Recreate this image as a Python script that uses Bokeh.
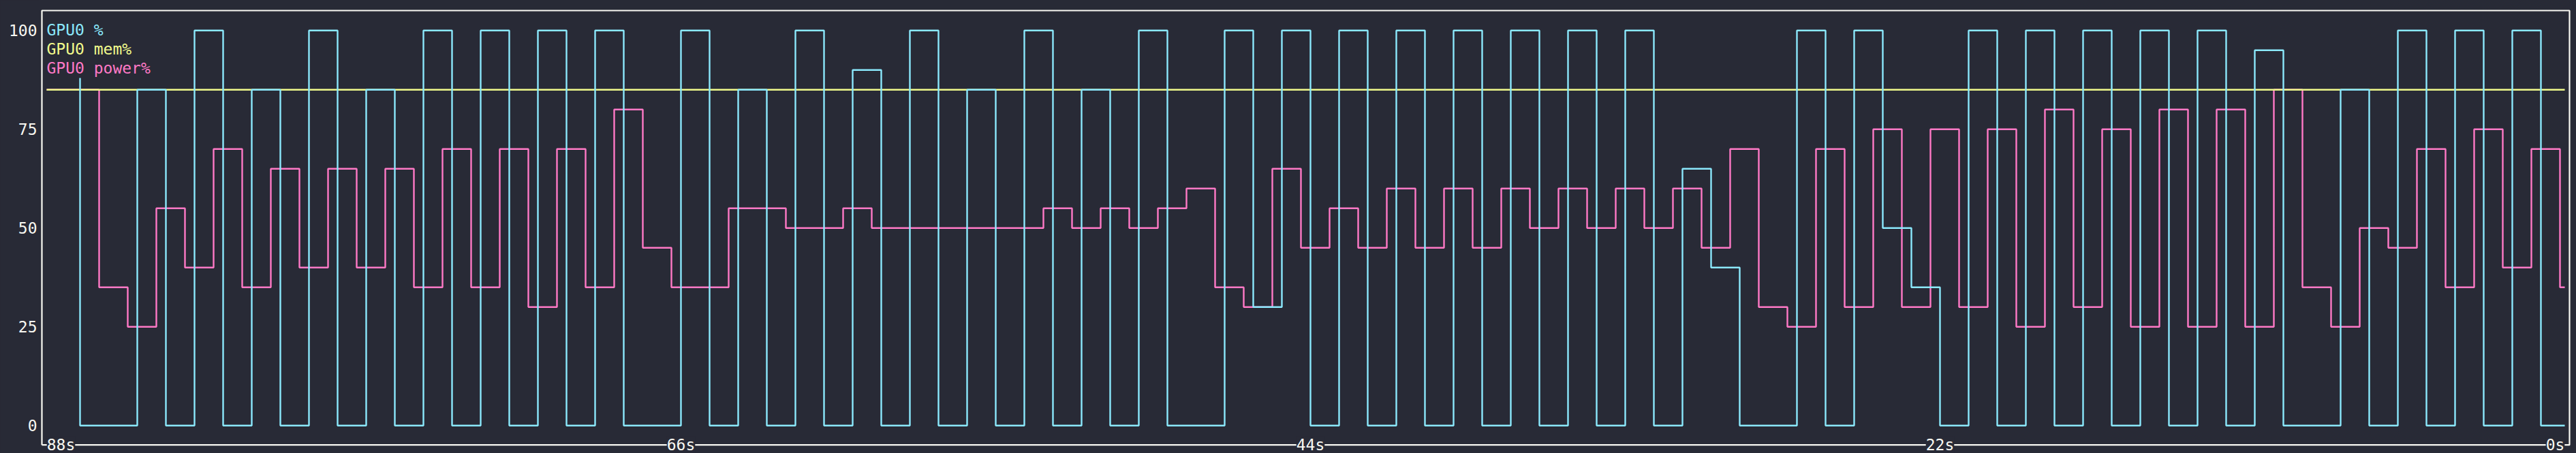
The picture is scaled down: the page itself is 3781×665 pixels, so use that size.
import numpy as np
from bokeh.plotting import figure
from bokeh.models import ColumnDataSource, Range1d, FixedTicker, Label
from bokeh.core.properties import value
from bokeh.embed import file_html
from bokeh.resources import INLINE

# ---------------- data (one sample per second, 88 s window) ----------------
gpu_pct = [88, 0, 0, 85, 0, 100, 0, 85, 0, 100, 0, 85, 0, 100, 0, 100, 0, 100, 0,
           100, 0, 0, 100, 0, 85, 0, 100, 0, 90, 0, 100, 0, 85, 0, 100, 0, 85, 0,
           100, 0, 0, 100, 30, 100, 0, 100, 0, 100, 0, 100, 0, 100, 0, 100, 0, 100,
           0, 65, 40, 0, 0, 100, 0, 100, 50, 35, 0, 100, 0, 100, 0, 100, 0, 100, 0,
           100, 0, 95, 0, 0, 85, 0, 100, 0, 100, 0, 100, 0]
power_pct = [85, 35, 25, 55, 40, 70, 35, 65, 40, 65, 40, 65, 35, 70, 35, 70, 30, 70,
             35, 80, 45, 35, 35, 55, 55, 50, 50, 55, 50, 50, 50, 50, 50, 50, 55, 50,
             55, 50, 55, 60, 35, 30, 65, 45, 55, 45, 60, 45, 60, 45, 60, 50, 60, 50,
             60, 50, 60, 45, 70, 30, 25, 70, 30, 75, 30, 75, 30, 75, 25, 80, 30, 75,
             25, 80, 25, 80, 25, 85, 35, 25, 50, 45, 70, 35, 75, 40, 70, 35]
mem_pct = [85, 85, 85, 85, 85, 85, 85, 85, 85, 85, 85, 85, 85, 85, 85, 85, 85, 85,
           85, 85, 85, 85, 85, 85, 85, 85, 85, 85, 85, 85, 85, 85, 85, 85, 85, 85,
           85, 85, 85, 85, 85, 85, 85, 85, 85, 85, 85, 85, 85, 85, 85, 85, 85, 85,
           85, 85, 85, 85, 85, 85, 85, 85, 85, 85, 85, 85, 85, 85, 85, 85, 85, 85,
           85, 85, 85, 85, 85, 85, 85, 85, 85, 85, 85, 85, 85, 85, 85, 85]
series_names = ["GPU0 %", "GPU0 mem%", "GPU0 power%"]
y_ticks = [0, 25, 50, 75, 100]
time_labels = ["88s", "66s", "44s", "22s", "0s"]
time_ago = [88, 66, 44, 22, 0]

# ---------------- style ----------------
BG = "#282a36"
FG = "#f8f8f2"
CYAN = "#8be9fd"
YELLOW = "#f1fa8c"
PINK = "#ff79c6"
FONT = "DejaVu Sans Mono"
FS = "23px"
CELL = 1.0 / 3.0                      # one terminal cell in seconds
X0 = -0.5 * CELL                      # left end of drawn data
X1 = 88 - 0.5 * CELL                  # right end of drawn data
BOX_L, BOX_R = -CELL, 88.0            # visible box (terminal frame)
BOX_B, BOX_T = -4.9, 105.05
PX_X, PX_Y = 42.0, 5.8                # pixels per second / per percent


def step_path(vals, edges):
    xs, ys = [], []
    for i, v in enumerate(vals):
        xs += [edges[i], edges[i + 1]]
        ys += [v, v]
    return xs, ys


n = len(gpu_pct)
inner = list(np.arange(1, n, dtype=float))                 # sample boundaries
gpu_edges = [1.0] + inner + [X1]                            # first sample has no width
mem_edges = [X0] + inner + [X1]
pow_edges = [X0] + [b + 2 * CELL for b in inner] + [X1]

LEFT = 56
FW, FH = 3781 - LEFT, 665
x_start = BOX_L - 5 / PX_X
y_top = BOX_T + 15 / PX_Y
p = figure(frame_width=FW, frame_height=FH,
           min_border_left=LEFT, min_border_right=0, min_border_top=0, min_border_bottom=0,
           x_range=Range1d(x_start, x_start + FW / PX_X),
           y_range=Range1d(y_top - FH / PX_Y, y_top),
           x_axis_location=None, toolbar_location=None, output_backend="svg",
           background_fill_color=BG, border_fill_color=BG)
p.grid.visible = False
p.outline_line_color = None

# terminal frame
p.line([BOX_L, BOX_R, BOX_R, BOX_L, BOX_L], [BOX_B, BOX_B, BOX_T, BOX_T, BOX_B],
       line_color=FG, line_width=2.2)

px, py = step_path(power_pct, pow_edges)
p.line(px, py, line_color=PINK, line_width=2.4)
mx, my = step_path(mem_pct, mem_edges)
p.line(mx, my, line_color=YELLOW, line_width=2.4)
gx, gy = step_path(gpu_pct, gpu_edges)
p.line(gx, gy, line_color=CYAN, line_width=2.4)

# y axis
ya = p.yaxis[0]
ya.ticker = FixedTicker(ticks=y_ticks)
ya.axis_line_color = None
ya.major_tick_line_color = None
ya.minor_tick_line_color = None
ya.major_tick_out = 0
ya.major_tick_in = 0
ya.major_label_standoff = 2
ya.major_label_text_font = FONT
ya.major_label_text_font_size = FS
ya.major_label_text_color = FG

# legend as coloured text
leg = ColumnDataSource(dict(x=[X0] * 3, y=[100.2 - 4.89 * i for i in range(3)],
                            t=series_names, c=[CYAN, YELLOW, PINK]))
p.text(x="x", y="y", text="t", text_color="c", source=leg,
       text_font=value(FONT), text_font_size=value(FS), text_baseline="middle",
       text_align="left")

# time labels sitting on the bottom frame line (kept inside the data extent)
for lab, t in zip(time_labels, time_ago):
    h = len(lab) * CELL / 2
    xx = min(max(88 - t, X0 + h), X1 - h)
    p.add_layout(Label(x=xx, y=BOX_B, text=lab, text_font=FONT, text_font_size=FS,
                       text_color=FG, text_align="center", text_baseline="middle",
                       background_fill_color=BG))

html = file_html(p, INLINE)
html = html.replace("<head>", "<head><style>html,body{background:#282a36;margin:0;padding:0;overflow:hidden;}</style>", 1)
open("out.html", "w").write(html)
